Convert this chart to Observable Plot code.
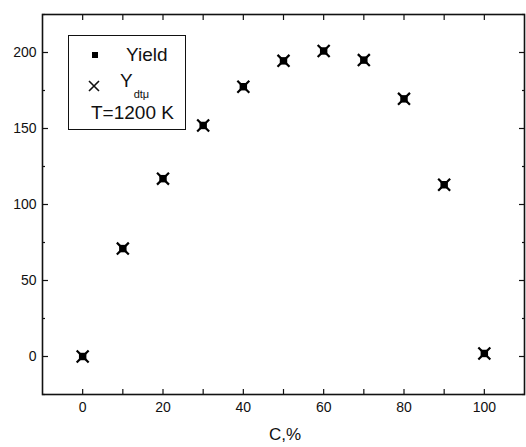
<!DOCTYPE html>
<html><head><meta charset="utf-8">
<script src="https://cdn.jsdelivr.net/npm/d3@7"></script>
<script src="https://cdn.jsdelivr.net/npm/@observablehq/plot@0.6"></script>
<style>
body{margin:0;background:#fff;font-family:"Liberation Sans",Arial,sans-serif;}
#wrap{position:relative;width:526px;height:447px;}
#legend{position:absolute;left:68px;top:35px;width:118px;height:95px;box-sizing:border-box;border:1.5px solid #111;background:#fff;font-size:19px;line-height:19px;color:#111;}
#legend div{position:absolute;white-space:nowrap;}
#xlabel{position:absolute;left:0;width:570px;top:426px;text-align:center;font-size:17px;line-height:17px;color:#111;}
</style></head>
<body><div id="wrap"></div>
<script>
const conc = [0, 10, 20, 30, 40, 50, 60, 70, 80, 90, 100];
const yieldVals = [0, 71, 117, 152, 177.5, 194.5, 201, 195, 169.5, 113, 2];
const ydtVals = [0, 71, 117, 152, 177.5, 194.5, 201, 195, 169.5, 113, 2];
const xTickLabels = [0, 20, 40, 60, 80, 100];
const xTicksAll = [0, 10, 20, 30, 40, 50, 60, 70, 80, 90, 100];
const yTickLabels = [0, 50, 100, 150, 200];
const yMinor = [-25, 25, 75, 125, 175, 225];

const yieldData = conc.map((c, i) => ({c, v: yieldVals[i]}));
const ydtData = conc.map((c, i) => ({c, v: ydtVals[i]}));

const chart = Plot.plot({
  width: 526, height: 447,
  marginLeft: 42, marginRight: 2, marginTop: 14, marginBottom: 53,
  style: {fontFamily: '"Liberation Sans", Arial, sans-serif', fontSize: "14px", color: "#111", background: "#fff"},
  x: {domain: [-10, 110]},
  y: {domain: [-25, 225]},
  marks: [
    Plot.axisX(xTickLabels, {anchor: "bottom", tickSize: 0, tickPadding: 8, label: null, fontSize: 14}),
    Plot.axisY(yTickLabels, {anchor: "left", tickSize: 0, tickPadding: 6, label: null, fontSize: 14}),
    Plot.axisX(xTicksAll, {anchor: "bottom", tickSize: -5, text: null, label: null, strokeWidth: 1.2}),
    Plot.axisX(xTicksAll, {anchor: "top", tickSize: -5, text: null, label: null, strokeWidth: 1.2}),
    Plot.axisY(yTickLabels, {anchor: "left", tickSize: -6, text: null, label: null, strokeWidth: 1.2}),
    Plot.axisY(yMinor, {anchor: "left", tickSize: -3, text: null, label: null, strokeWidth: 1.2}),
    Plot.axisY(yTickLabels, {anchor: "right", tickSize: -6, text: null, label: null, strokeWidth: 1.2}),
    Plot.axisY(yMinor, {anchor: "right", tickSize: -3, text: null, label: null, strokeWidth: 1.2}),
    Plot.frame({stroke: "#111", strokeWidth: 1.6}),
    Plot.dot(yieldData, {x: "c", y: "v", symbol: "square", r: 4.2, fill: "#000", stroke: "none"}),
    Plot.dot(ydtData, {x: "c", y: "v", symbol: "times", r: 5.5, stroke: "#000", strokeWidth: 2.2, fill: "none"})
  ]
});
const wrap = document.getElementById("wrap");
wrap.appendChild(chart);
const legend = document.createElement("div");
legend.id = "legend";
legend.innerHTML = `
<div style="left:23px;top:16px;width:6px;height:6px;background:#000"></div>
<div style="left:57px;top:9px">Yield</div>
<div style="left:19px;top:40px;width:12px;height:12px"><svg width="12" height="12"><path d="M1,1L11,11M11,1L1,11" stroke="#111" stroke-width="1.6"/></svg></div>
<div style="left:51px;top:35px">Y<span style="font-size:11px;position:relative;top:11px;left:1px">dtμ</span></div>
<div style="left:22px;top:67px">T=1200 K</div>`;
wrap.appendChild(legend);
const xl = document.createElement("div");
xl.id = "xlabel";
xl.textContent = "C,%";
wrap.appendChild(xl);
</script>
</body></html>
